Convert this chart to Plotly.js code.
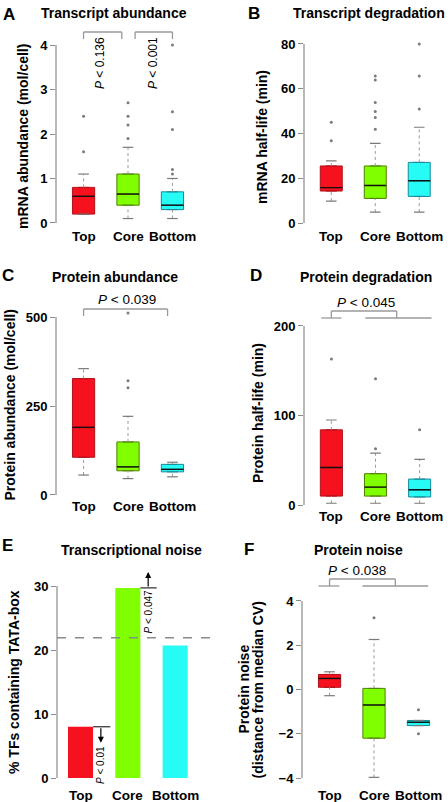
<!DOCTYPE html>
<html><head><meta charset="utf-8">
<script src="https://cdn.plot.ly/plotly-3.0.1.min.js"></script>
<style>html,body{margin:0;padding:0;background:#fff}#chart{width:448px;height:802px}</style>
</head><body><div id="chart"></div><script>
// ---------- data ----------
const categories = ['Top', 'Core', 'Bottom'];

// A: Transcript abundance (mol/cell)
const aQ1 = [0.2, 0.4, 0.3], aMed = [0.6, 0.65, 0.4], aQ3 = [0.8, 1.1, 0.7];
const aLo = [0.2, 0.1, 0.1], aHi = [1.1, 1.7, 1.0];
const aOut = [[1.6, 2.4], [1.9, 2.2, 2.4, 2.7], [1.1, 1.2, 2.1, 2.5, 4.0]];
const aTicks = [0, 1, 2, 3, 4];

// B: mRNA half-life (min)
const bQ1 = [14.3, 11, 11.9], bMed = [15.8, 16.8, 18.9], bQ3 = [25.5, 25.5, 27.1];
const bLo = [9.8, 4.9, 4.9], bHi = [27.8, 35.6, 42.8];
const bOut = [[36.8, 45], [41.9, 47.1, 49.8, 53.9, 63.9, 65.7], [50.9, 65.7, 80]];
const bTicks = [0, 20, 40, 60, 80];

// C: Protein abundance (mol/cell)
const cQ1 = [106, 68, 65], cMed = [190, 79, 72], cQ3 = [327, 149, 86];
const cLo = [56, 46, 51], cHi = [355, 221, 92];
const cOut = [[], [301, 321, 511], []];
const cTicks = [0, 250, 500];

// D: Protein half-life (min)
const dQ1 = [10, 10, 9], dMed = [42, 20, 17], dQ3 = [84, 35, 29];
const dLo = [2, 2, 2], dHi = [95, 58, 51];
const dOut = [[163], [63, 141], [84]];
const dTicks = [0, 100, 200];

// E: % TFs containing TATA-box
const eTata = [8.0, 29.7, 20.7];
const eBaseline = 21.9;
const eTicks = [0, 10, 20, 30];

// F: Protein noise (distance from median CV)
const fQ1 = [0.10, -2.2, -1.63], fMed = [0.50, -0.70, -1.48], fQ3 = [0.68, 0.05, -1.40];
const fLo = [-0.28, -3.97, -1.63], fHi = [0.80, 2.26, -1.40];
const fOut = [[], [3.24], [-0.92, -2.0]];
const fTicks = [-4, -2, 0, 2, 4];
const fTickText = ['\u22124', '\u22122', '0', '2', '4'];

// ---------- style / layout ----------
const W = 448, H = 802;
const FONT = 'Liberation Sans, Arial, Helvetica, sans-serif';
const FILL = ['#F5121E', '#80FF00', '#27FBF6'];
const EDGE = ['#B0101A', '#4F7F00', '#16899A'];
const AXC = '#8a8a8a';
const px2x = p => p / W;
const px2y = p => 1 - p / H;

const panels = [
  {x: [56, 200], y: [37.9, 230.1], xr: [0.38, 3.62], yr: [-0.16, 4.16], ticks: aTicks},
  {x: [304, 446.5], y: [36.8, 230.2], xr: [0.38, 3.62], yr: [-3.2, 83.2], ticks: bTicks},
  {x: [56, 200], y: [309.9, 502.1], xr: [0.38, 3.62], yr: [-20, 520], ticks: cTicks},
  {x: [304, 447], y: [318.8, 512.2], xr: [0.38, 3.62], yr: [-8, 208], ticks: dTicks},
  {x: [57, 213], y: [566.8, 778], xr: [0.503, 3.80], yr: [0, 33], ticks: eTicks},
  {x: [302, 446], y: [593.9, 785.1], xr: [0.38, 3.62], yr: [-4.32, 4.32], ticks: fTicks, ticktext: fTickText}
];

const layout = {
  width: W, height: H, margin: {l: 0, r: 0, t: 0, b: 0},
  paper_bgcolor: '#fff', plot_bgcolor: 'rgba(0,0,0,0)',
  showlegend: false, font: {family: FONT, color: '#000'},
  shapes: [], annotations: []
};
const traces = [];

panels.forEach((p, i) => {
  const s = i === 0 ? '' : String(i + 1);
  layout['xaxis' + s] = {
    domain: [px2x(p.x[0]), px2x(p.x[1])], range: p.xr, anchor: 'y' + s,
    showgrid: false, zeroline: false, showline: false, showticklabels: false, ticks: ''
  };
  layout['yaxis' + s] = {
    domain: [px2y(p.y[1]), px2y(p.y[0])], range: p.yr, anchor: 'x' + s,
    showgrid: false, zeroline: false, showline: false,
    ticks: 'outside', ticklen: 5, tickwidth: 1, tickcolor: AXC,
    tickvals: p.ticks, ticktext: p.ticktext || p.ticks.map(String),
    tickfont: {family: FONT, size: 13, weight: 'bold', color: '#000'}
  };
  // R-style axis line spanning tick range
  layout.shapes.push({type: 'line', xref: 'x' + s + ' domain', yref: 'y' + s,
    x0: 0, x1: 0, y0: p.ticks[0], y1: p.ticks[p.ticks.length - 1],
    line: {color: AXC, width: 1.2}});
});

function addBoxes(s, q1, med, q3, lo, hi, out) {
  const xa = 'x' + s, ya = 'y' + s;
  for (let k = 0; k < 3; k++) {
    const x = k + 1, c = 0.12, h = 0.25;
    traces.push({type: 'scatter', mode: 'lines', xaxis: xa, yaxis: ya, hoverinfo: 'skip',
      x: [x, x, null, x, x], y: [lo[k], q1[k], null, q3[k], hi[k]],
      line: {color: '#9a9a9a', width: 1, dash: 'dot'}});
    traces.push({type: 'scatter', mode: 'lines', xaxis: xa, yaxis: ya, hoverinfo: 'skip',
      x: [x - c, x + c, null, x - c, x + c], y: [lo[k], lo[k], null, hi[k], hi[k]],
      line: {color: '#7a7a7a', width: 1.2}});
    traces.push({type: 'box', orientation: 'v', xaxis: xa, yaxis: ya, hoverinfo: 'skip',
      x: [x], q1: [q1[k]], median: [med[k]], q3: [q3[k]],
      lowerfence: [q1[k]], upperfence: [q3[k]], width: 0.5,
      fillcolor: FILL[k], line: {color: EDGE[k], width: 1}});
    traces.push({type: 'scatter', mode: 'lines', xaxis: xa, yaxis: ya, hoverinfo: 'skip',
      x: [x - h, x + h], y: [med[k], med[k]], line: {color: '#111', width: 1.4}});
    if (out[k].length) {
      traces.push({type: 'scatter', mode: 'markers', xaxis: xa, yaxis: ya, hoverinfo: 'skip',
        x: out[k].map(() => x), y: out[k],
        marker: {color: '#7a7a7a', size: 3, symbol: 'circle'}});
    }
  }
}
addBoxes('', aQ1, aMed, aQ3, aLo, aHi, aOut);
addBoxes('2', bQ1, bMed, bQ3, bLo, bHi, bOut);
addBoxes('3', cQ1, cMed, cQ3, cLo, cHi, cOut);
addBoxes('4', dQ1, dMed, dQ3, dLo, dHi, dOut);
addBoxes('6', fQ1, fMed, fQ3, fLo, fHi, fOut);

// E: bars
traces.push({type: 'bar', xaxis: 'x5', yaxis: 'y5', x: [1, 2, 3], y: eTata, width: 0.53,
  marker: {color: FILL, line: {width: 0}}, hoverinfo: 'skip'});
layout.shapes.push({type: 'line', xref: 'x5 domain', yref: 'y5', x0: 0, x1: 1,
  y0: eBaseline, y1: eBaseline, line: {color: AXC, width: 1.5, dash: 'dash'}});
layout.shapes.push({type: 'line', xref: 'x5', yref: 'y5', x0: 1.265, x1: 1.63,
  y0: eTata[0], y1: eTata[0], line: {color: '#000', width: 1}});
layout.shapes.push({type: 'line', xref: 'x5', yref: 'y5', x0: 2.265, x1: 2.61,
  y0: eTata[1], y1: eTata[1], line: {color: '#000', width: 1}});
layout.annotations.push({xref: 'x5', yref: 'y5', axref: 'x5', ayref: 'y5',
  x: 1.43, y: eTata[0] - 2.5, ax: 1.43, ay: eTata[0], text: '', showarrow: true,
  arrowhead: 2, arrowsize: 1, arrowwidth: 1.2, arrowcolor: '#000'});
layout.annotations.push({xref: 'x5', yref: 'y5', axref: 'x5', ayref: 'y5',
  x: 2.43, y: eTata[1] + 2.5, ax: 2.43, ay: eTata[1], text: '', showarrow: true,
  arrowhead: 2, arrowsize: 1, arrowwidth: 1.2, arrowcolor: '#000'});

// ---------- text ----------
function ann(text, x, y, o) {
  layout.annotations.push(Object.assign({text, x: px2x(x), y: px2y(y), xref: 'paper', yref: 'paper',
    showarrow: false, xanchor: 'center', yanchor: 'middle',
    font: {family: FONT, size: 14, weight: 'bold', color: '#000'}}, o || {}));
}
const letterFont = {family: FONT, size: 17, weight: 'bold', color: '#000'};
ann('A', 9, 14, {font: letterFont});
ann('B', 254, 13, {font: letterFont});
ann('C', 7.5, 275, {font: letterFont});
ann('D', 256, 275, {font: letterFont});
ann('E', 7.5, 545, {font: letterFont});
ann('F', 249, 549, {font: letterFont});

ann('Transcript abundance', 113.5, 13);
ann('Transcript degradation', 369, 13);
ann('Protein abundance', 115, 277);
ann('Protein degradation', 366, 277);
ann('Transcriptional noise', 131, 550);
ann('Protein noise', 358, 549.5);

ann('mRNA abundance (mol/cell)', 23, 137, {textangle: -90});
ann('mRNA half-life (min)', 262, 137, {textangle: -90});
ann('Protein abundance (mol/cell)', 9.5, 405, {textangle: -90});
ann('Protein half-life (min)', 258, 413, {textangle: -90});
ann('% TFs containing TATA-box', 14, 682, {textangle: -90});
ann('Protein noise', 243.5, 689, {textangle: -90});
ann('(distance from median CV)', 257.5, 690, {textangle: -90});

// category labels
const catY = [236.7, 236.7, 506.7, 516.7, 795, 795];
catY.forEach((y, i) => {
  const s = i === 0 ? '' : String(i + 1);
  categories.forEach((c, k) => {
    layout.annotations.push({text: c, xref: 'x' + s, yref: 'paper', x: k + 1, y: px2y(y),
      showarrow: false, xanchor: 'center', yanchor: 'middle',
      font: {family: FONT, size: 13.5, weight: 'bold', color: '#000'}});
  });
});

// P-values
const pFont = sz => ({family: FONT, size: sz, weight: 'normal', color: '#000'});
ann('<i>P</i> &lt; 0.136', 100, 63, {textangle: -90, font: pFont(12)});
ann('<i>P</i> &lt; 0.001', 153, 63, {textangle: -90, font: pFont(12)});
ann('<i>P</i> &lt; 0.039', 127, 299, {font: pFont(13.5)});
ann('<i>P</i> &lt; 0.045', 366, 302.7, {font: pFont(13.5)});
ann('<i>P</i> &lt; 0.047', 147.5, 612, {textangle: -90, font: pFont(10)});
ann('<i>P</i> &lt; 0.01', 100, 765, {textangle: -90, font: pFont(10)});
ann('<i>P</i> &lt; 0.038', 357, 570, {font: pFont(13.5)});

// brackets (gray)
const BR = '#9a9a9a';
function seg(xref, x0, x1, y0, y1) {
  layout.shapes.push({type: 'line', xref, yref: 'paper', x0, x1, y0: px2y(y0), y1: px2y(y1),
    line: {color: BR, width: 1.3}});
}
function bracket(xref, xa, xb, ytop, ybot) {
  seg(xref, xa, xa, ybot, ytop); seg(xref, xa, xb, ytop, ytop); seg(xref, xb, xb, ytop, ybot);
}
bracket('x', 1.0, 1.86, 32, 39);
bracket('x', 2.16, 3.0, 32, 39);
bracket('x3', 1.0, 2.89, 309, 316);
// D
seg('x4', 0.77, 1.23, 318, 318); seg('x4', 1.77, 3.27, 318, 318);
bracket('x4', 1.0, 2.48, 311, 318);
// F
seg('x6', 0.75, 1.22, 586, 586); seg('x6', 1.74, 3.22, 586, 586);
bracket('x6', 1.0, 2.48, 579, 586);

traces.forEach(t => t.showlegend = false);
Plotly.newPlot('chart', traces, layout, {staticPlot: true, displayModeBar: false});
</script></body></html>
